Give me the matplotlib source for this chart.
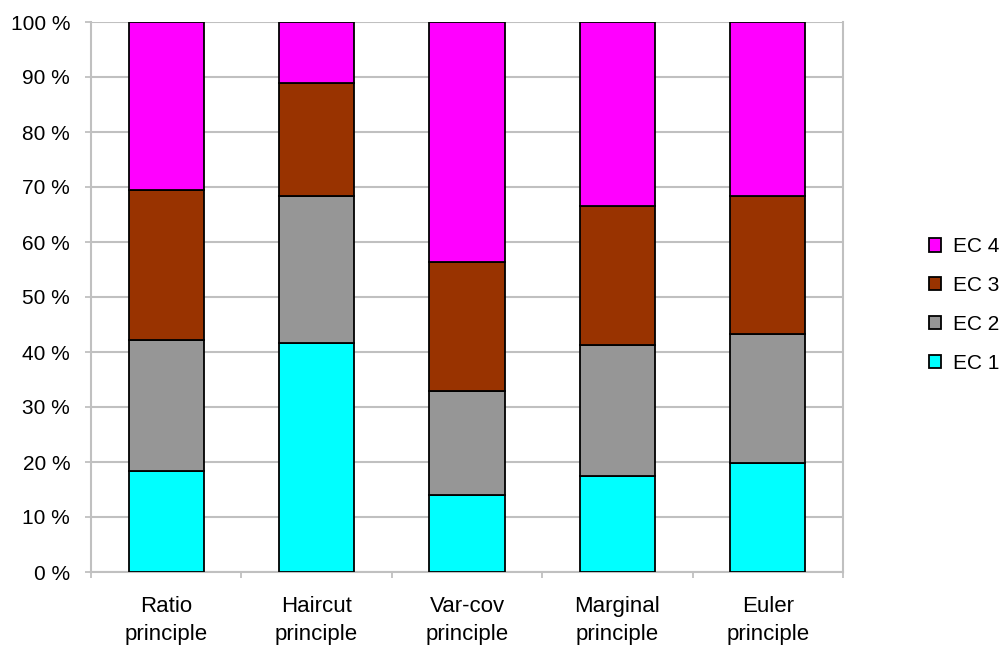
import matplotlib
matplotlib.use("Agg")
import matplotlib.pyplot as plt
from matplotlib.patches import Patch
import numpy as np

plt.rcParams['font.family'] = ['Liberation Sans', 'DejaVu Sans']

# allocation shares (%) per principle
principles = ["Ratio\nprinciple", "Haircut\nprinciple", "Var-cov\nprinciple",
              "Marginal\nprinciple", "Euler\nprinciple"]
ec1 = [18.4, 41.7, 14.0, 17.5, 19.8]
ec2 = [23.8, 26.7, 19.0, 23.8, 23.4]
ec3 = [27.3, 20.5, 23.3, 25.2, 25.2]
ec4 = [30.5, 11.1, 43.7, 33.5, 31.6]

series = [("EC 1", ec1, "#00FFFF"),
          ("EC 2", ec2, "#969696"),
          ("EC 3", ec3, "#993300"),
          ("EC 4", ec4, "#FF00FF")]

grey = "#C0C0C0"

fig = plt.figure(figsize=(10.05, 6.5), dpi=100)
ax = fig.add_axes([91 / 1005, 78 / 650, 752 / 1005, 550 / 650])

x = np.arange(len(principles))
bottom = np.zeros(len(principles))
for name, vals, col in series:
    ax.bar(x, vals, width=0.5, bottom=bottom, color=col,
           edgecolor="black", linewidth=1.3, zorder=3)
    bottom += np.array(vals)

ax.set_xlim(-0.5, len(principles) - 0.5)
ax.set_ylim(0, 100)

ax.set_yticks(np.arange(0, 101, 10))
ax.set_yticklabels([f"{v} %" for v in range(0, 101, 10)])
ax.yaxis.grid(True, color=grey, linewidth=1.5, zorder=0)
ax.tick_params(axis="y", length=4.5, width=1.3, color=grey, pad=10.5,
               labelsize=15)

ax.set_xticks(x)
ax.set_xticklabels(principles, linespacing=1.45)
ax.set_xticks(np.arange(-0.5, len(principles), 1), minor=True)
ax.tick_params(axis="x", which="major", length=0, pad=17, labelsize=16)
ax.tick_params(axis="x", which="minor", length=4.5, width=1.3, color=grey)

for side in ("left", "right", "bottom"):
    ax.spines[side].set_color(grey)
    ax.spines[side].set_linewidth(1.5)
ax.spines["top"].set_visible(False)

handles = [Patch(facecolor=col, edgecolor="black", linewidth=1.3, label=name)
           for name, vals, col in series][::-1]
fig.legend(handles=handles, loc="center left", bbox_to_anchor=(910 / 1005, 1 - 305 / 650),
           frameon=False, fontsize=15, handlelength=0.6, handleheight=0.6,
           handletextpad=0.55, labelspacing=0.95)

fig.savefig("out.png", dpi=100)
